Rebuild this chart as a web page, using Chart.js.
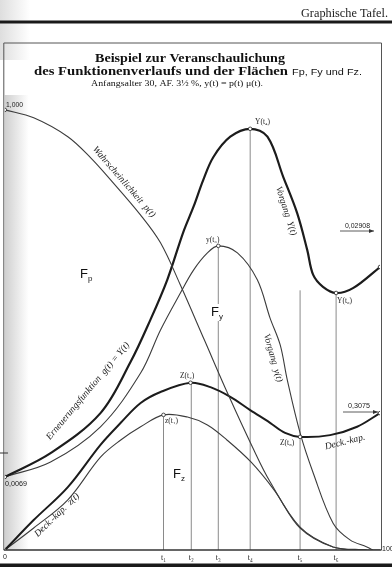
<!DOCTYPE html>
<html>
<head>
<meta charset="utf-8">
<script src="https://cdn.jsdelivr.net/npm/chart.js@4"></script>
<style>
  html, body { margin: 0; padding: 0; background: #fff; }
  canvas { display: block; }
</style>
</head>
<body>
<canvas id="tafel" width="392" height="588"></canvas>
<script>
// Wahrscheinlichkeit p(t)
const probT   = [0, 7.7, 16.8, 22.9, 28.2, 36.2, 41.5, 46.8, 53.2, 59.6, 66.0, 70.7, 78.7, 87.5, 94.7, 100];
const probVal = [1.000, 0.982, 0.939, 0.891, 0.841, 0.761, 0.698, 0.602, 0.477, 0.352, 0.234, 0.155, 0.052, 0.007, 0, 0];

// Erneuerungsfunktion / Vorgang Y(t) (dick)
const bigYT   = [0, 12.2, 25.5, 33.5, 38.8, 43.3, 47.6, 50.3, 52.9, 55.6, 60.1, 65.4, 70.0, 74.2, 77.9, 80.6, 82.2, 84.8, 88.3, 92.8, 100];
const bigYVal = [0.166, 0.220, 0.311, 0.427, 0.523, 0.614, 0.723, 0.780, 0.841, 0.893, 0.939, 0.957, 0.939, 0.848, 0.766, 0.682, 0.625, 0.598, 0.584, 0.595, 0.643];

// Vorgang y(t) (dünn)
const smallYT   = [0, 12.2, 25.5, 36.2, 41.5, 46.8, 50.3, 54.0, 56.9, 62.0, 67.3, 70.7, 73.4, 75.3, 78.7, 82.2, 87.5, 92.0, 96.5, 98.1];
const smallYVal = [0.166, 0.200, 0.280, 0.402, 0.500, 0.584, 0.636, 0.675, 0.691, 0.675, 0.614, 0.527, 0.466, 0.386, 0.266, 0.175, 0.061, 0.023, 0.007, 0];

// Deckungskapital Z(t) (dick)
const bigZT   = [0, 7.7, 16.8, 25.5, 30.9, 36.2, 41.5, 49.5, 54.8, 60.1, 65.4, 70.7, 74.7, 78.7, 86.7, 93.9, 100];
const bigZVal = [0, 0.068, 0.143, 0.239, 0.289, 0.334, 0.359, 0.380, 0.370, 0.348, 0.318, 0.289, 0.266, 0.257, 0.261, 0.280, 0.311];

// Deckungskapital z(t) (dünn)
const smallZT   = [0, 7.7, 16.8, 25.5, 30.9, 36.2, 42.3, 48.7, 54.0, 59.2, 65.6, 71.8, 78.7, 87.5, 96.5];
const smallZVal = [0, 0.050, 0.114, 0.211, 0.250, 0.280, 0.307, 0.302, 0.284, 0.250, 0.200, 0.136, 0.050, 0.007, 0];

// Zeitpunkte t1..t6 und Höhe der Ordinaten
const tPoints = [42.3, 49.7, 56.9, 65.4, 78.7, 88.3];
const tLabels = ['t\u2081', 't\u2082', 't\u2083', 't\u2084', 't\u2085', 't\u2086'];
const tTops   = [0.307, 0.380, 0.691, 0.957, 0.590, 0.584];

const toXY = (xs, ys) => xs.map((x, i) => ({ x: x, y: ys[i] }));

const INK = '#1c1c1c';
const THIN = '#3c3c3c';
const SERIF = '"Liberation Serif", "DejaVu Serif", serif';
const SANS = '"Liberation Sans", "DejaVu Sans", sans-serif';

// markierte Punkte (kleine Kreise)
const marks = [
    { x: probT[0], y: probVal[0] },
    { x: bigYT[0], y: bigYVal[0] },
    { x: bigZT[0], y: bigZVal[0] },
    { x: bigYT[11], y: bigYVal[11] },
    { x: bigYT[18], y: bigYVal[18] },
    { x: bigYT[20], y: bigYVal[20] },
    { x: smallYT[8], y: smallYVal[8] },
    { x: bigZT[7], y: bigZVal[7] },
    { x: bigZT[13], y: bigZVal[13] },
    { x: bigZT[16], y: bigZVal[16] },
    { x: smallZT[6], y: smallZVal[6] }
];

function curve(label, data, width, color) {
    return {
        label: label,
        data: data,
        showLine: true,
        borderColor: color,
        borderWidth: width,
        pointRadius: 0,
        tension: 0.35,
        order: 1
    };
}

const datasets = [
    { label: 'Punkte', data: marks, showLine: false, pointRadius: 1.8, pointBackgroundColor: '#fff',
      pointBorderColor: '#222', pointBorderWidth: 0.8, order: 0 },
    curve('p(t)', toXY(probT, probVal), 1.1, THIN),
    curve('Y(t)', toXY(bigYT, bigYVal), 2.2, INK),
    curve('y(t)', toXY(smallYT, smallYVal), 1.1, THIN),
    curve('Z(t)', toXY(bigZT, bigZVal), 2.0, INK),
    curve('z(t)', toXY(smallZT, smallZVal), 1.1, THIN)
];
tPoints.forEach((t, i) => {
    datasets.push({
        label: tLabels[i],
        data: [{ x: t, y: 0 }, { x: t, y: tTops[i] }],
        showLine: true,
        borderColor: '#8a8a8a',
        borderWidth: 1,
        pointRadius: 0,
        order: 5
    });
});

// Text mit Zielbreite (horizontal gestaucht/gestreckt)
function fitText(ctx, s, x, y, w, font) {
    ctx.save();
    ctx.font = font;
    const m = ctx.measureText(s).width;
    ctx.translate(x, y);
    if (w) ctx.scale(w / m, 1);
    ctx.textAlign = 'left';
    ctx.textBaseline = 'middle';
    ctx.fillText(s, 0, 0);
    ctx.restore();
}

function rotText(ctx, s, x, y, deg, font) {
    ctx.save();
    ctx.translate(x, y);
    ctx.rotate(deg * Math.PI / 180);
    ctx.font = font;
    ctx.textAlign = 'center';
    ctx.textBaseline = 'middle';
    ctx.fillText(s, 0, 0);
    ctx.restore();
}

function areaLabel(ctx, sub, x, y) {
    ctx.save();
    ctx.textBaseline = 'alphabetic';
    ctx.textAlign = 'left';
    ctx.font = '13px ' + SANS;
    const w = ctx.measureText('F').width;
    ctx.fillStyle = '#fff';
    ctx.fillRect(x - 1, y - 12, w + 8, 17);
    ctx.fillStyle = '#111';
    ctx.fillText('F', x, y);
    ctx.font = '8px ' + SANS;
    ctx.fillText(sub, x + w, y + 3);
    ctx.restore();
}

function arrow(ctx, x0, x1, y) {
    ctx.save();
    ctx.strokeStyle = '#333';
    ctx.fillStyle = '#333';
    ctx.lineWidth = 0.8;
    ctx.beginPath();
    ctx.moveTo(x0, y);
    ctx.lineTo(x1, y);
    ctx.stroke();
    ctx.beginPath();
    ctx.moveTo(x1, y);
    ctx.lineTo(x1 - 5, y - 2);
    ctx.lineTo(x1 - 5, y + 2);
    ctx.closePath();
    ctx.fill();
    ctx.restore();
}

const paper = {
    id: 'paper',
    beforeDraw(chart) {
        const ctx = chart.ctx;
        const a = chart.chartArea;
        ctx.save();
        ctx.fillStyle = '#fff';
        ctx.fillRect(0, 0, chart.width, chart.height);
        // Scan-Schatten am linken Rand
        const g = ctx.createLinearGradient(a.left, 0, a.left + 24, 0);
        g.addColorStop(0, 'rgba(150,150,150,0.45)');
        g.addColorStop(1, 'rgba(150,150,150,0)');
        ctx.fillStyle = g;
        ctx.fillRect(a.left, 95, 24, a.bottom - 95);
        const g2 = ctx.createLinearGradient(0, 0, 30, 0);
        g2.addColorStop(0, 'rgba(160,160,160,0.35)');
        g2.addColorStop(1, 'rgba(160,160,160,0)');
        ctx.fillStyle = g2;
        ctx.fillRect(0, 0, 30, 60);
        ctx.restore();
    },
    afterDraw(chart) {
        const ctx = chart.ctx;
        const a = chart.chartArea;
        const xs = chart.scales.x;
        ctx.save();
        ctx.fillStyle = '#222';

        // Kopfzeile und Linien
        fitText(ctx, 'Graphische Tafel.', 301, 14, 87, '12px ' + SERIF);
        ctx.fillStyle = '#1a1a1a';
        ctx.fillRect(0, 20.5, chart.width, 3);
        ctx.fillRect(0, 563.5, chart.width, 3.5);

        // Rahmen
        ctx.strokeStyle = '#555';
        ctx.lineWidth = 1;
        ctx.beginPath();
        ctx.moveTo(a.left - 1, a.bottom);
        ctx.lineTo(a.left - 1, a.top);
        ctx.lineTo(a.right + 1.5, a.top);
        ctx.lineTo(a.right + 1.5, a.bottom);
        ctx.stroke();
        ctx.strokeStyle = '#333';
        ctx.lineWidth = 1.4;
        ctx.beginPath();
        ctx.moveTo(a.left - 1, a.bottom);
        ctx.lineTo(a.right + 1.5, a.bottom);
        ctx.stroke();
        ctx.lineWidth = 1;
        ctx.beginPath();
        ctx.moveTo(0, 453);
        ctx.lineTo(8, 453);
        ctx.stroke();

        // Titel
        ctx.fillStyle = '#111';
        fitText(ctx, 'Beispiel zur Veranschaulichung', 95, 59, 190, 'bold 13px ' + SERIF);
        fitText(ctx, 'des Funktionenverlaufs und der Flächen', 34, 72, 254, 'bold 13px ' + SERIF);
        fitText(ctx, 'Fp, Fy und Fz.', 292, 72.5, 70, '9px ' + SANS);
        fitText(ctx, 'Anfangsalter 30, AF. 3½ %, y(t) = p(t) μ(t).', 91, 84, 172, '9px ' + SERIF);

        // Achsenbeschriftung
        ctx.fillStyle = '#222';
        fitText(ctx, '1,000', 6, 105, 17, '7px ' + SANS);
        fitText(ctx, '0,0069', 5, 484, 22, '7px ' + SANS);
        fitText(ctx, '0', 3, 557, 0, '7px ' + SANS);
        fitText(ctx, '100', 382, 549, 0, '7px ' + SANS);
        ctx.font = '8px ' + SERIF;
        ctx.textAlign = 'center';
        ctx.textBaseline = 'middle';
        tPoints.forEach((t, i) => ctx.fillText(tLabels[i], xs.getPixelForValue(t), 558));

        // Werte am rechten Rand
        fitText(ctx, '0,02908', 345, 226, 25, '7px ' + SANS);
        arrow(ctx, 340, 374, 231);
        fitText(ctx, '0,3075', 348, 406, 22, '7px ' + SANS);
        arrow(ctx, 343, 378, 412);

        // Kurvenbeschriftungen
        ctx.fillStyle = '#222';
        const it = 'italic 9.5px ' + SERIF;
        rotText(ctx, 'Wahrscheinlichkeit  p(t)', 124, 182, 49, it);
        rotText(ctx, 'Erneuerungsfunktion  g(t) = Y(t)', 88, 391, -50, it);
        rotText(ctx, 'Vorgang  Y(t)', 286, 211, 72, it);
        rotText(ctx, 'Vorgang  y(t)', 273, 358, 74, it);
        rotText(ctx, 'Deck.-kap.  z(t)', 57, 515, -44, it);
        rotText(ctx, 'Deck.-kap.', 345, 442, -14, it);

        // Punktbezeichnungen
        const pf = '7.5px ' + SERIF;
        fitText(ctx, 'Y(t\u2084)', 255, 122, 0, pf);
        fitText(ctx, 'y(t\u2083)', 206, 240, 0, pf);
        fitText(ctx, 'Z(t\u2082)', 180, 376, 0, pf);
        fitText(ctx, 'z(t\u2081)', 165, 421, 0, pf);
        fitText(ctx, 'Z(t\u2085)', 280, 443, 0, pf);
        fitText(ctx, 'Y(t\u2086)', 337, 301, 0, pf);

        // Flächen
        areaLabel(ctx, 'p', 80, 278);
        areaLabel(ctx, 'y', 211, 316);
        areaLabel(ctx, 'z', 173, 478);
        ctx.restore();
    }
};

new Chart(document.getElementById('tafel'), {
    type: 'scatter',
    data: { datasets: datasets },
    options: {
        responsive: false,
        animation: false,
        layout: { padding: { left: 4, right: 12, top: 43, bottom: 38 } },
        plugins: { legend: { display: false }, tooltip: { enabled: false } },
        scales: {
            x: { type: 'linear', min: 0, max: 100, display: false },
            y: { type: 'linear', min: 0, max: 1.152, display: false }
        }
    },
    plugins: [paper]
});
</script>
</body>
</html>
